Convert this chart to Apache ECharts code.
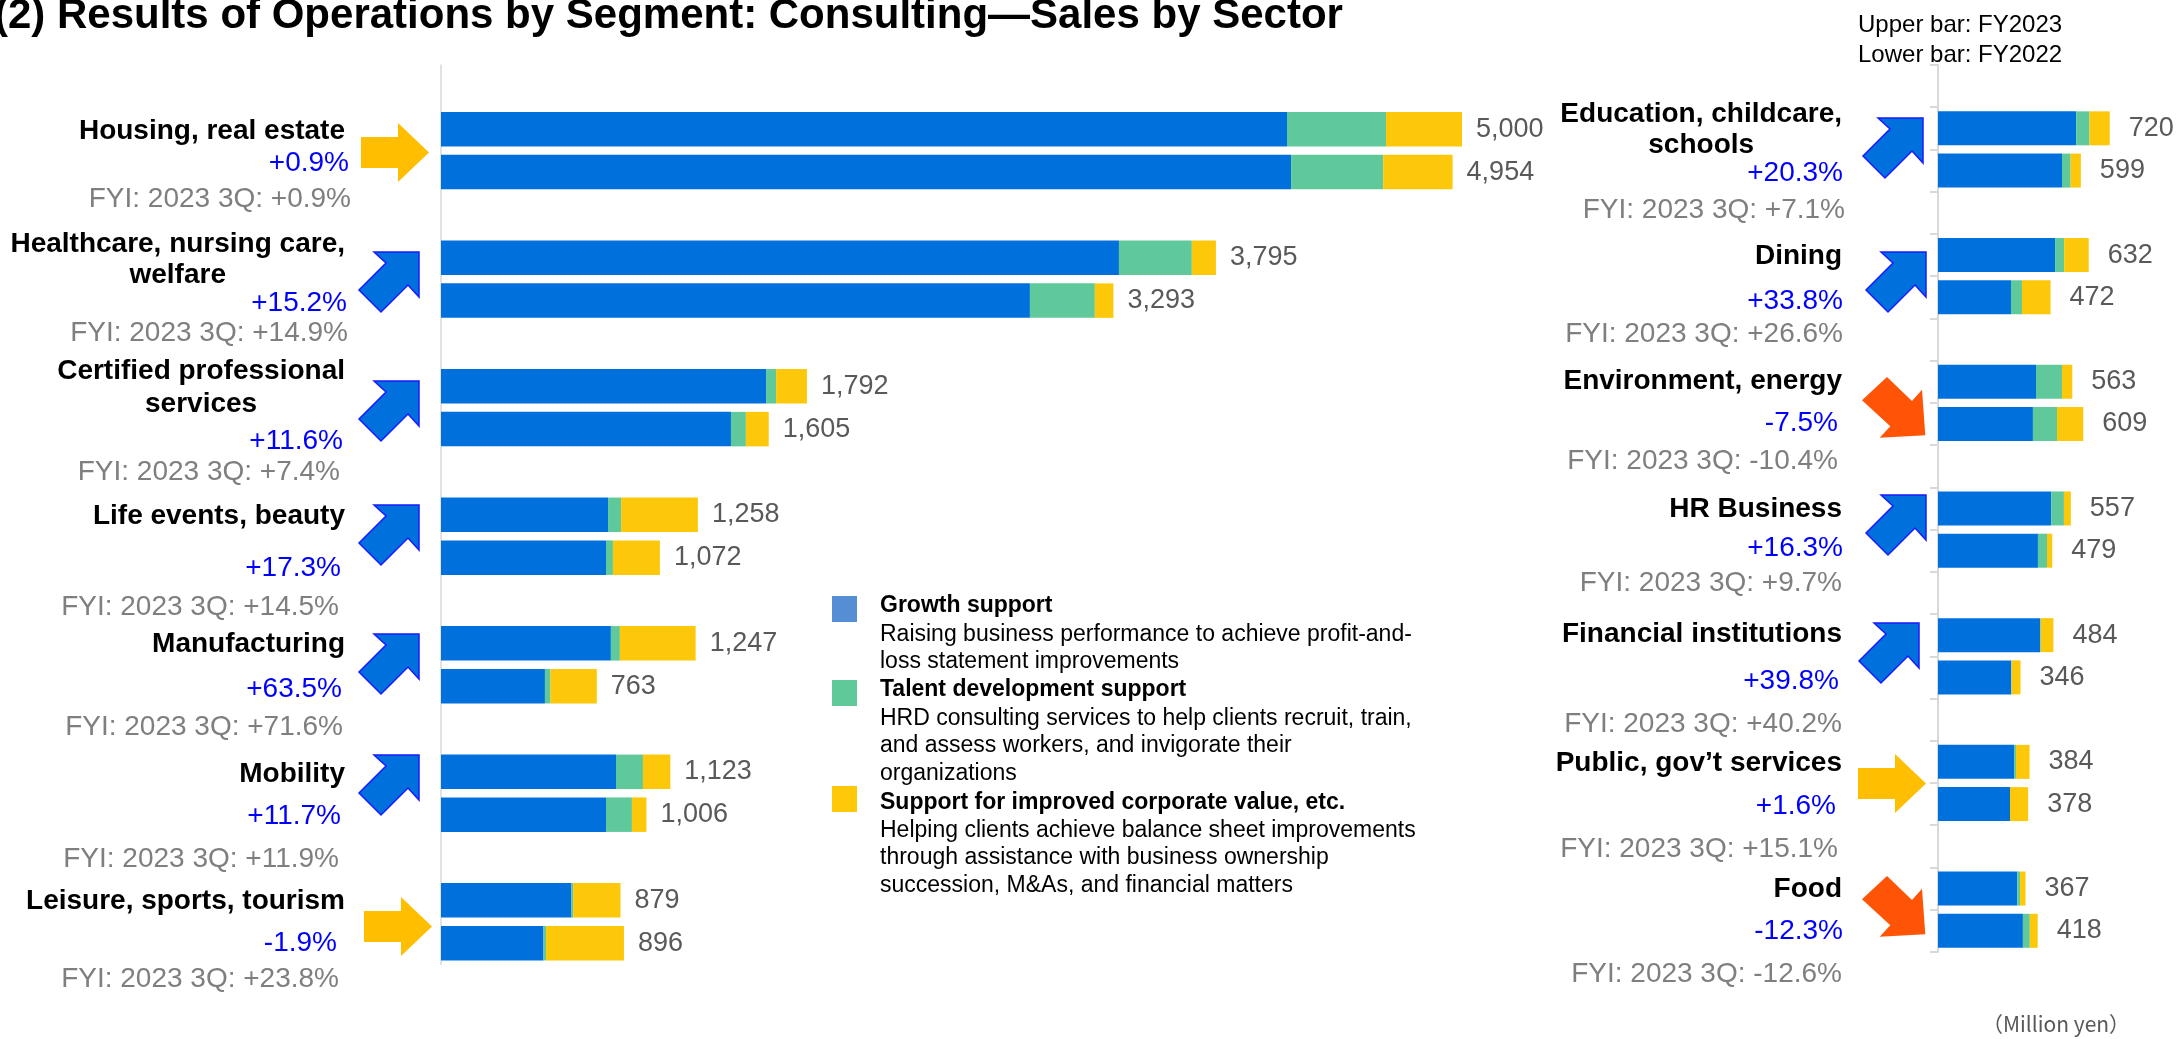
<!DOCTYPE html>
<html>
<head>
<meta charset="utf-8">
<title>Consulting — Sales by Sector</title>
<script src="https://cdn.jsdelivr.net/npm/echarts@6.0.0/dist/echarts.min.js"></script>
<style>
  html, body { margin: 0; padding: 0; background: #ffffff; }
  #chart { width: 2183px; height: 1039px; }
</style>
</head>
<body>
<div id="chart"></div>
<script>
// ---------- Data (million yen) ----------
// Left panel sectors
const sectorsLeft = ['Housing, real estate', 'Healthcare, nursing care,\nwelfare', 'Certified professional\nservices',
  'Life events, beauty', 'Manufacturing', 'Mobility', 'Leisure, sports, tourism'];
const changeLeft = ['+0.9%', '+15.2%', '+11.6%', '+17.3%', '+63.5%', '+11.7%', '-1.9%'];
const fyiLeft = ['+0.9%', '+14.9%', '+7.4%', '+14.5%', '+71.6%', '+11.9%', '+23.8%'];
const trendLeft = ['flat', 'up', 'up', 'up', 'up', 'up', 'flat'];

const total23L = [5000, 3795, 1792, 1258, 1247, 1123, 879];
const growth23L = [4143, 3320, 1592, 818, 832, 857, 639];
const talent23L = [485, 357, 49, 64, 44, 132, 8];
const corp23L = [372, 118, 151, 376, 371, 134, 232];

const total22L = [4954, 3293, 1605, 1072, 763, 1006, 896];
const growth22L = [4163, 2884, 1420, 808, 509, 808, 502];
const talent22L = [451, 318, 73, 34, 27, 127, 12];
const corp22L = [340, 91, 112, 230, 227, 71, 382];

// Right panel sectors
const sectorsRight = ['Education, childcare,\nschools', 'Dining', 'Environment, energy', 'HR Business',
  'Financial institutions', 'Public, gov\u2019t services', 'Food'];
const changeRight = ['+20.3%', '+33.8%', '-7.5%', '+16.3%', '+39.8%', '+1.6%', '-12.3%'];
const fyiRight = ['+7.1%', '+26.6%', '-10.4%', '+9.7%', '+40.2%', '+15.1%', '-12.6%'];
const trendRight = ['up', 'up', 'down', 'up', 'up', 'flat', 'down'];

const total23R = [720, 632, 563, 557, 484, 384, 367];
const growth23R = [580, 491, 411, 475, 429, 319, 333];
const talent23R = [55, 38, 109, 53, 2, 8, 11];
const corp23R = [85, 103, 43, 29, 53, 57, 23];

const total22R = [599, 472, 609, 479, 346, 378, 418];
const growth22R = [520, 306, 398, 419, 307, 302, 356];
const talent22R = [36, 46, 101, 38, 2, 0, 29];
const corp22R = [43, 120, 110, 22, 37, 76, 33];

const segmentNames = ['Growth support', 'Talent development support', 'Support for improved corporate value, etc.'];
const segmentNotes = [
  ['Raising business performance to achieve profit-and-', 'loss statement improvements'],
  ['HRD consulting services to help clients recruit, train,', 'and assess workers, and invigorate their', 'organizations'],
  ['Helping clients achieve balance sheet improvements', 'through assistance with business ownership', 'succession, M&As, and financial matters']
];

// ---------- Styles and layout ----------
const FONT = '"Liberation Sans", Arial, Helvetica, sans-serif';
const BAR_COLORS = ['#0070dd', '#5fc99c', '#fdc80a'];
const LEGEND_COLORS = ['#558ed5', '#5fc99a', '#ffc909'];
const ARROW = { up: '#0070dd', upStroke: '#1a1aff', down: '#ff5405', flat: '#ffbe00' };

// text baselines per sector: [name line(s)], change, fyi ; right edges for change / fyi
const layoutLeft = [
  { name: [138.3], change: 170, fyi: 206, rc: 349, rf: 351 },
  { name: [251, 282.3], change: 310.7, fyi: 340, rc: 347, rf: 348 },
  { name: [378.3, 411.7], change: 448.3, fyi: 479.3, rc: 343, rf: 340 },
  { name: [523.3], change: 575, fyi: 614.3, rc: 341, rf: 339 },
  { name: [651.7], change: 696, fyi: 734, rc: 342, rf: 343 },
  { name: [781], change: 823.3, fyi: 866.7, rc: 341, rf: 339 },
  { name: [908.3], change: 950, fyi: 986.7, rc: 337, rf: 339 }
];
const layoutRight = [
  { name: [121, 152.3], change: 180, fyi: 217.3, rc: 1843, rf: 1845 },
  { name: [263.3], change: 308.3, fyi: 341.7, rc: 1843, rf: 1843 },
  { name: [388.3], change: 430.7, fyi: 468.3, rc: 1838, rf: 1838 },
  { name: [516.7], change: 555, fyi: 590, rc: 1843, rf: 1842 },
  { name: [641.7], change: 688.3, fyi: 731.7, rc: 1839, rf: 1842 },
  { name: [770], change: 813.3, fyi: 856.7, rc: 1836, rf: 1838 },
  { name: [896.7], change: 938.3, fyi: 981.7, rc: 1843, rf: 1842 }
];
// arrow boxes (top-left corner)
const arrowPosLeft = [[361, 123], [359, 252], [359, 381], [359, 505], [359, 634], [359, 755], [364, 897]];
const arrowPosRight = [[1863, 118], [1866, 252], [1862, 377], [1866, 495], [1859, 623], [1858, 754], [1862, 876]];

const UP_SHAPE = [[60, 0], [15, 0], [27, 11], [0, 38], [22, 60], [49, 33], [60, 45]];
const DOWN_SHAPE = [[0, 23.3], [25, 0], [50, 24], [60, 12.7], [63.3, 58.3], [17.7, 60.7], [28.3, 49.3]];
const FLAT_SHAPE = [[0, 14], [37, 14], [37, 0], [68, 29.5], [37, 59], [37, 45], [0, 45]];

// ---------- Helpers ----------
const measureCtx = document.createElement('canvas').getContext('2d');
function textWidth(str, font) { measureCtx.font = font; return measureCtx.measureText(str).width; }

// places a text so that its alphabetic baseline sits at `baseline`
function txt(x, baseline, str, size, color, weight, align, family) {
  const font = `${weight} ${size}px ${family || FONT}`;
  return {
    type: 'text', silent: true, z: 10,
    style: {
      text: str, x: x, y: baseline - size * 0.25, font: font, fill: color,
      align: align, textAlign: align, verticalAlign: 'middle', textVerticalAlign: 'middle'
    }
  };
}

function arrow(kind, pos) {
  const shape = kind === 'up' ? UP_SHAPE : kind === 'down' ? DOWN_SHAPE : FLAT_SHAPE;
  const pts = shape.map(p => [pos[0] + p[0], pos[1] + p[1]]);
  const style = kind === 'up'
    ? { fill: ARROW.up, stroke: ARROW.upStroke, lineWidth: 1.5 }
    : { fill: kind === 'down' ? ARROW.down : ARROW.flat };
  return { type: 'polygon', silent: true, z: 5, shape: { points: pts }, style: style };
}

function sectorLabels(names, changes, fyis, layout, nameRight) {
  const out = [];
  const boldFont = `bold 28px ${FONT}`;
  names.forEach((nm, i) => {
    const lines = nm.split('\n');
    const L = layout[i];
    out.push(txt(nameRight, L.name[0], lines[0], 28, '#000000', 'bold', 'right'));
    if (lines.length > 1) {
      // second line centred under the first
      const w = textWidth(lines[0], boldFont);
      out.push(txt(nameRight - w / 2, L.name[1], lines[1], 28, '#000000', 'bold', 'center'));
    }
    out.push(txt(L.rc, L.change, changes[i], 28, '#0000ff', 'normal', 'right'));
    out.push(txt(L.rf, L.fyi, 'FYI: 2023 3Q: ' + fyis[i], 28, '#7f7f7f', 'normal', 'right'));
  });
  return out;
}

// rows: for every sector a spacer row, then FY2023 (upper) and FY2022 (lower)
function toRows(a23, a22) {
  const out = [];
  for (let i = 0; i < a23.length; i++) out.push('-', a23[i], a22[i]);
  return out;
}
function rowKeys(n) {
  const out = [];
  for (let i = 0; i < n; i++) out.push(i + '-gap', i + '-FY2023', i + '-FY2022');
  return out;
}
const fmt = v => Number(v).toLocaleString('en-US');

function stackSeries(gridIdx, growth, talent, corp, totals, barW, labelDist, labelSize) {
  const totalRows = toRows(totals[0], totals[1]);
  const segs = [toRows(growth[0], growth[1]), toRows(talent[0], talent[1]), toRows(corp[0], corp[1])];
  return segs.map((data, k) => ({
    type: 'bar',
    name: segmentNames[k],
    xAxisIndex: gridIdx, yAxisIndex: gridIdx,
    stack: 'sales' + gridIdx,
    barWidth: barW,
    data: data,
    itemStyle: { color: BAR_COLORS[k], borderWidth: 0 },
    label: k === 2 ? {
      show: true, position: 'right', distance: labelDist,
      formatter: p => fmt(totalRows[p.dataIndex]),
      color: '#595959', fontSize: labelSize, fontFamily: FONT
    } : { show: false },
    emphasis: { disabled: true },
    silent: true
  }));
}

// ---------- Graphic elements ----------
const graphics = [];
graphics.push(txt(-6, 27, '(2) Results of Operations by Segment: Consulting\u2014Sales by Sector', 42, '#000000', 'bold', 'left'));
graphics.push(txt(1858, 31.5, 'Upper bar: FY2023', 24, '#000000', 'normal', 'left'));
graphics.push(txt(1858, 61, 'Lower bar: FY2022', 24, '#000000', 'normal', 'left'));
graphics.push(txt(1982, 1029, '\uFF08Million yen\uFF09', 21, '#595959', 'normal', 'left', '"Noto Sans CJK JP", "Noto Sans", sans-serif'));

sectorLabels(sectorsLeft, changeLeft, fyiLeft, layoutLeft, 345).forEach(g => graphics.push(g));
sectorLabels(sectorsRight, changeRight, fyiRight, layoutRight, 1842).forEach(g => graphics.push(g));
trendLeft.forEach((t, i) => graphics.push(arrow(t, arrowPosLeft[i])));
trendRight.forEach((t, i) => graphics.push(arrow(t, arrowPosRight[i])));

// legend block
const legendSquares = [[832, 596], [832, 680], [832, 786]];
const legendBaselines = [[611.7, 640, 667.7], [695, 724, 751.7, 779], [808, 836.7, 863, 891.7]];
segmentNames.forEach((nm, k) => {
  graphics.push({ type: 'rect', silent: true, shape: { x: legendSquares[k][0], y: legendSquares[k][1], width: 25, height: 26 },
    style: { fill: LEGEND_COLORS[k] } });
  graphics.push(txt(880, legendBaselines[k][0], nm, 23, '#000000', 'bold', 'left'));
  segmentNotes[k].forEach((line, j) => graphics.push(txt(880, legendBaselines[k][j + 1], line, 23, '#000000', 'normal', 'left')));
});

// ---------- Chart ----------
const chart = echarts.init(document.getElementById('chart'), null, { renderer: 'canvas' });
const option = {
  animation: false,
  backgroundColor: '#ffffff',
  grid: [
    { left: 441, top: 65, width: 1225.2, height: 899.6, outerBoundsMode: 'none', containLabel: false },
    { left: 1938, top: 65, width: 238.5, height: 886.9, outerBoundsMode: 'none', containLabel: false }
  ],
  xAxis: [
    { gridIndex: 0, type: 'value', min: 0, max: 6000, show: false },
    { gridIndex: 1, type: 'value', min: 0, max: 1000, show: false }
  ],
  yAxis: [
    { gridIndex: 0, type: 'category', inverse: true, data: rowKeys(sectorsLeft.length),
      axisLine: { show: true, lineStyle: { color: '#d9d9d9', width: 1.5 } },
      axisTick: { show: false }, axisLabel: { show: false }, splitLine: { show: false } },
    { gridIndex: 1, type: 'category', inverse: true, data: rowKeys(sectorsRight.length),
      axisLine: { show: true, lineStyle: { color: '#d9d9d9', width: 2 } },
      axisTick: { show: true, interval: 0, inside: false, length: 8, lineStyle: { color: '#d9d9d9', width: 2 } },
      axisLabel: { show: false }, splitLine: { show: false } }
  ],
  series: [
    ...stackSeries(0, [growth23L, growth22L], [talent23L, talent22L], [corp23L, corp22L], [total23L, total22L], 34.5, 14, 27),
    ...stackSeries(1, [growth23R, growth22R], [talent23R, talent22R], [corp23R, corp22R], [total23R, total22R], 34, 19, 27)
  ],
  graphic: { elements: graphics }
};
chart.setOption(option);
</script>
</body>
</html>
